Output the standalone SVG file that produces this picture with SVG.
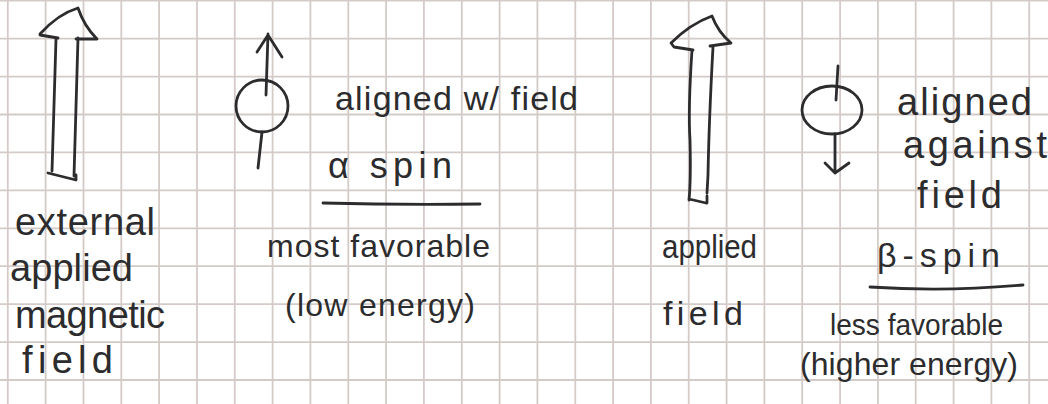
<svg xmlns="http://www.w3.org/2000/svg" width="1048" height="404" viewBox="0 0 1048 404">
<style>
.grid{stroke:#d4cbc8;stroke-width:1.8;fill:none}
.ink{stroke:#2c2c2e;stroke-width:2.8;fill:none;stroke-linecap:round;stroke-linejoin:round}
.t{font-family:"Liberation Sans","DejaVu Sans",sans-serif;fill:#2c2c2e;font-size:34px}
.s32{font-size:32px}
.s36{font-size:36px}
.s38{font-size:38px}
</style>
<rect width="1048" height="404" fill="#ffffff"/>
<path class="grid" d="M7.8,0V404M45.6,0V404M83.5,0V404M121.3,0V404M159.1,0V404M197,0V404M234.8,0V404M272.6,0V404M310.4,0V404M348.3,0V404M386.1,0V404M423.9,0V404M461.8,0V404M499.6,0V404M537.4,0V404M575.3,0V404M613.1,0V404M650.9,0V404M688.7,0V404M726.6,0V404M764.4,0V404M802.2,0V404M840.1,0V404M877.9,0V404M915.7,0V404M953.6,0V404M991.4,0V404M1029.2,0V404M0,0.7H1048M0,38.6H1048M0,76.6H1048M0,114.5H1048M0,152.4H1048M0,190.4H1048M0,228.3H1048M0,266.2H1048M0,304.1H1048M0,342.1H1048M0,380H1048"/>

<g id="external-field">
<path class="ink" d="M40,34 Q58,14 78,8 Q84,26 97,39 L76,39 M58,38 L40,35 M56,39 L52,171 M78,38 L74,176 M48,173 L76,180 L76,175"/>
<text class="t s38" x="15" y="235" textLength="140" lengthAdjust="spacing">external</text>
<text class="t s38" x="10" y="281" textLength="123" lengthAdjust="spacing">applied</text>
<text class="t s38" x="15" y="328" textLength="150" lengthAdjust="spacing">magnetic</text>
<text class="t s38" x="22" y="373" textLength="91" lengthAdjust="spacing">field</text>
</g>

<g id="alpha-spin">
<circle class="ink" cx="262" cy="106" r="26"/>
<path class="ink" d="M266,95 L268,34 M262,132 L258,168 M257,52 L268,35 L282,57"/>
<text class="t" x="335" y="110" textLength="243" lengthAdjust="spacing">aligned w/ field</text>
<text class="t s36" x="328" y="178" textLength="124" lengthAdjust="spacing">α spin</text>
<path class="ink" d="M323,203 Q400,205 480,204"/>
<text class="t s32" x="267" y="257" textLength="223" lengthAdjust="spacing">most favorable</text>
<text class="t s32" x="285" y="316" textLength="190" lengthAdjust="spacing">(low energy)</text>
</g>

<g id="applied-field">
<path class="ink" d="M671,43 Q690,24 712,16 Q718,32 731,43 L710,46 M671,43 L674,47 L693,50 M692,50 Q688,110 690,140 Q691,180 689,200 M713,47 Q709,120 708,175 L707,193 M689,199 L706,203 M707,196 L707,203"/>
<text class="t" x="662" y="258" textLength="95" lengthAdjust="spacingAndGlyphs">applied</text>
<text class="t" x="663" y="325" textLength="80" lengthAdjust="spacing">field</text>
</g>

<g id="beta-spin">
<ellipse class="ink" cx="832" cy="110" rx="30" ry="24"/>
<path class="ink" d="M838,66 L836,100 M835,134 L835,173 M825,163 L835,173 L849,163"/>
<text class="t s38" x="897" y="115" textLength="135" lengthAdjust="spacing">aligned</text>
<text class="t s38" x="903" y="158" textLength="144" lengthAdjust="spacing">against</text>
<text class="t s38" x="917" y="208" textLength="85" lengthAdjust="spacing">field</text>
<text class="t" x="877" y="267" textLength="123" lengthAdjust="spacing">β-spin</text>
<path class="ink" d="M870,287 Q945,292 1023,285"/>
<text class="t" style="font-size:30px" x="830" y="335" textLength="173" lengthAdjust="spacingAndGlyphs">less favorable</text>
<text class="t s32" x="800" y="375" textLength="218" lengthAdjust="spacing">(higher energy)</text>
</g>
</svg>
